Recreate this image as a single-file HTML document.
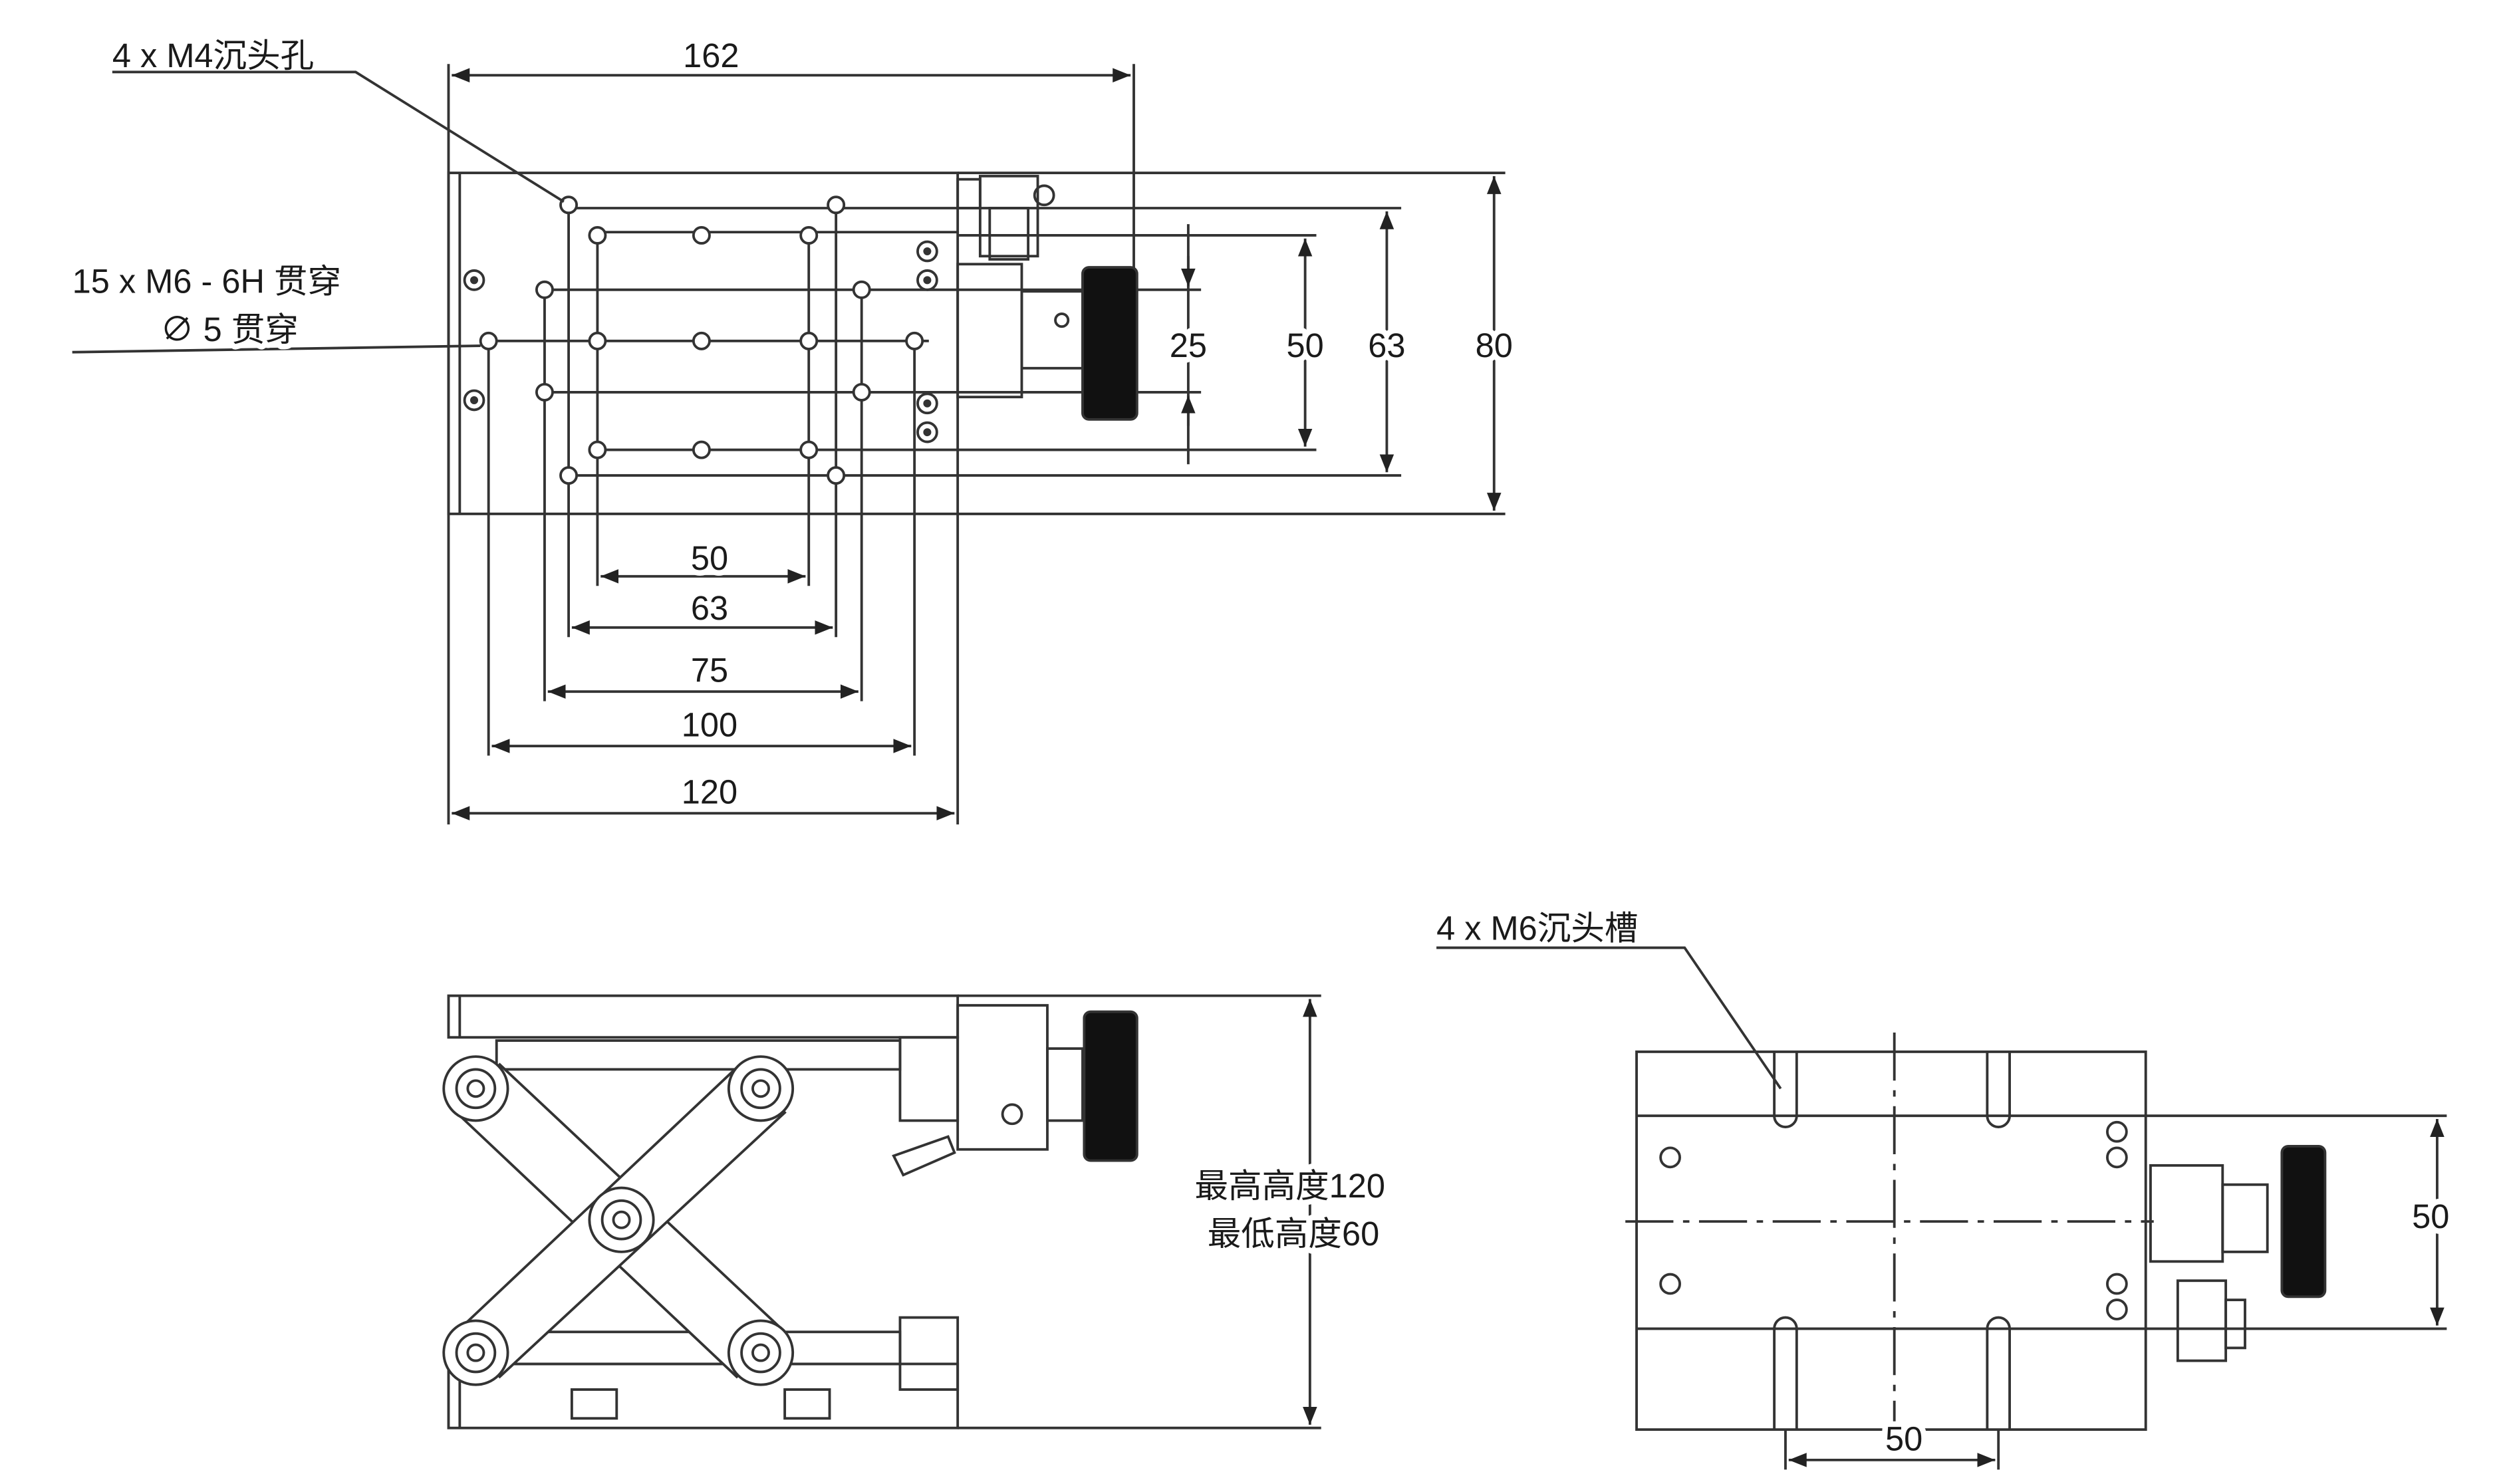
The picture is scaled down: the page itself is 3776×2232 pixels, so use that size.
<!DOCTYPE html>
<html><head><meta charset="utf-8"><style>
html,body{margin:0;padding:0;background:#fff;width:3776px;height:2232px;overflow:hidden}
svg{display:block}
text{font-family:"Liberation Sans","Noto Sans CJK SC",sans-serif;font-size:21px;fill:#1a1a1a;stroke:#fff;stroke-width:7px;paint-order:stroke;stroke-linejoin:round}
text.n{stroke:none}
</style></head><body>
<svg width="3776" height="2232" viewBox="0 0 1568 927" xmlns="http://www.w3.org/2000/svg">
<defs>
<marker id="a" viewBox="0 0 10 10" refX="10" refY="5" markerWidth="7" markerHeight="7" orient="auto-start-reverse"><path d="M0,1 L10,5 L0,9 z" fill="#222"/></marker>
</defs>
<g stroke="#333" stroke-width="1.6" fill="none">
<rect x="280" y="108" width="318" height="213"/>
<line x1="287" y1="108" x2="287" y2="321"/>
<line x1="355" y1="130" x2="875" y2="130"/>
<line x1="370" y1="145" x2="598" y2="145"/>
<line x1="598" y1="147" x2="822" y2="147"/>
<line x1="340" y1="181" x2="598" y2="181"/>
<line x1="598" y1="181" x2="750" y2="181"/>
<line x1="305" y1="213" x2="580" y2="213"/>
<line x1="340" y1="245" x2="598" y2="245"/>
<line x1="598" y1="245" x2="750" y2="245"/>
<line x1="370" y1="281" x2="598" y2="281"/>
<line x1="598" y1="281" x2="822" y2="281"/>
<line x1="355" y1="297" x2="875" y2="297"/>
<line x1="598" y1="108" x2="940" y2="108"/>
<line x1="598" y1="321" x2="940" y2="321"/>
<line x1="355" y1="128" x2="355" y2="398"/>
<line x1="522" y1="128" x2="522" y2="398"/>
<line x1="373" y1="147" x2="373" y2="366"/>
<line x1="505" y1="147" x2="505" y2="366"/>
<line x1="340" y1="181" x2="340" y2="438"/>
<line x1="538" y1="181" x2="538" y2="438"/>
<line x1="305" y1="213" x2="305" y2="472"/>
<line x1="571" y1="213" x2="571" y2="472"/>
<line x1="280" y1="40" x2="280" y2="515"/>
<line x1="598" y1="321" x2="598" y2="515"/>
<line x1="708" y1="40" x2="708" y2="170"/>
<line x1="742" y1="140" x2="742" y2="290"/>
<g fill="#fff">
<circle cx="373" cy="147" r="5"/><circle cx="438" cy="147" r="5"/><circle cx="505" cy="147" r="5"/>
<circle cx="373" cy="213" r="5"/><circle cx="438" cy="213" r="5"/><circle cx="505" cy="213" r="5"/><circle cx="571" cy="213" r="5"/><circle cx="305" cy="213" r="5"/>
<circle cx="373" cy="281" r="5"/><circle cx="438" cy="281" r="5"/><circle cx="505" cy="281" r="5"/>
<circle cx="340" cy="181" r="5"/><circle cx="538" cy="181" r="5"/><circle cx="340" cy="245" r="5"/><circle cx="538" cy="245" r="5"/>
<circle cx="355" cy="128" r="5"/><circle cx="522" cy="128" r="5"/><circle cx="355" cy="297" r="5"/><circle cx="522" cy="297" r="5"/>
<circle cx="296" cy="175" r="6"/><circle cx="296" cy="250" r="6"/>
<circle cx="579" cy="157" r="6"/><circle cx="579" cy="175" r="6"/><circle cx="579" cy="252" r="6"/><circle cx="579" cy="270" r="6"/>
</g>
<g fill="#333" stroke="none">
<circle cx="296" cy="175" r="2.5"/><circle cx="296" cy="250" r="2.5"/><circle cx="579" cy="157" r="2.5"/><circle cx="579" cy="175" r="2.5"/><circle cx="579" cy="252" r="2.5"/><circle cx="579" cy="270" r="2.5"/>
</g>
<rect x="612" y="110" width="36" height="50"/>
<rect x="598" y="112" width="14" height="18"/>
<circle cx="652" cy="122" r="6"/>
<rect x="618" y="130" width="24" height="32"/>
<rect x="598" y="165" width="40" height="83"/>
<rect x="638" y="182" width="38" height="48"/>
<circle cx="663" cy="200" r="4"/>
<rect x="676" y="167" width="34" height="95" rx="4" fill="#111"/>
<line x1="282" y1="47" x2="706" y2="47" marker-start="url(#a)" marker-end="url(#a)"/>
<line x1="375" y1="360" x2="503" y2="360" marker-start="url(#a)" marker-end="url(#a)"/>
<line x1="357" y1="392" x2="520" y2="392" marker-start="url(#a)" marker-end="url(#a)"/>
<line x1="342" y1="432" x2="536" y2="432" marker-start="url(#a)" marker-end="url(#a)"/>
<line x1="307" y1="466" x2="569" y2="466" marker-start="url(#a)" marker-end="url(#a)"/>
<line x1="282" y1="508" x2="596" y2="508" marker-start="url(#a)" marker-end="url(#a)"/>
<line x1="933" y1="110" x2="933" y2="319" marker-start="url(#a)" marker-end="url(#a)"/>
<line x1="866" y1="132" x2="866" y2="295" marker-start="url(#a)" marker-end="url(#a)"/>
<line x1="815" y1="149" x2="815" y2="279" marker-start="url(#a)" marker-end="url(#a)"/>
<line x1="742" y1="160" x2="742" y2="179" marker-end="url(#a)"/>
<line x1="742" y1="266" x2="742" y2="247" marker-end="url(#a)"/>
<polyline points="70,45 222,45 352,126"/>
<line x1="45" y1="220" x2="300" y2="216"/>

<rect x="280" y="622" width="318" height="26"/>
<line x1="287" y1="622" x2="287" y2="648"/>
<rect x="310" y="650" width="252" height="18"/>
<rect x="562" y="648" width="36" height="52"/>
<rect x="598" y="628" width="56" height="90"/>
<rect x="654" y="655" width="22" height="45"/>
<circle cx="632" cy="696" r="6"/>
<path d="M558,722 L592,710 L596,720 L564,734 z"/>
<rect x="677" y="632" width="33" height="93" rx="4" fill="#111"/>
<rect x="310" y="832" width="252" height="20"/>
<rect x="562" y="823" width="36" height="45"/>
<rect x="280" y="852" width="318" height="40"/>
<line x1="287" y1="852" x2="287" y2="892"/>
<rect x="357" y="868" width="28" height="18"/><rect x="490" y="868" width="28" height="18"/>
<path d="M285,695 L460,860 L490,832 L312,665 z" fill="#fff"/>
<path d="M462,665 L285,832 L312,860 L490,695 z" fill="#fff"/>
<g fill="#fff">
<circle cx="297" cy="680" r="20"/><circle cx="475" cy="680" r="20"/><circle cx="388" cy="762" r="20"/><circle cx="297" cy="845" r="20"/><circle cx="475" cy="845" r="20"/>
<circle cx="297" cy="680" r="12"/><circle cx="475" cy="680" r="12"/><circle cx="388" cy="762" r="12"/><circle cx="297" cy="845" r="12"/><circle cx="475" cy="845" r="12"/>
<circle cx="297" cy="680" r="5"/><circle cx="475" cy="680" r="5"/><circle cx="388" cy="762" r="5"/><circle cx="297" cy="845" r="5"/><circle cx="475" cy="845" r="5"/>
</g>
<line x1="598" y1="622" x2="825" y2="622"/>
<line x1="598" y1="892" x2="825" y2="892"/>
<line x1="818" y1="624" x2="818" y2="890" marker-start="url(#a)" marker-end="url(#a)"/>

<rect x="1022" y="657" width="318" height="236"/>
<line x1="1022" y1="697" x2="1340" y2="697"/>
<line x1="1022" y1="830" x2="1340" y2="830"/>
<line x1="1340" y1="697" x2="1528" y2="697"/>
<line x1="1340" y1="830" x2="1528" y2="830"/>
<line x1="1015" y1="763" x2="1345" y2="763" stroke-dasharray="30,6,4,6"/>
<line x1="1183" y1="645" x2="1183" y2="905" stroke-dasharray="30,6,4,6"/>
<path d="M1108,657 L1108,697 A7,7 0 0 0 1122,697 L1122,657"/>
<path d="M1241,657 L1241,697 A7,7 0 0 0 1255,697 L1255,657"/>
<path d="M1108,893 L1108,830 A7,7 0 0 1 1122,830 L1122,893"/>
<path d="M1241,893 L1241,830 A7,7 0 0 1 1255,830 L1255,893"/>
<line x1="1115" y1="893" x2="1115" y2="918"/><line x1="1248" y1="893" x2="1248" y2="918"/>
<line x1="1117" y1="912" x2="1246" y2="912" marker-start="url(#a)" marker-end="url(#a)"/>
<g fill="#fff"><circle cx="1043" cy="723" r="6"/><circle cx="1043" cy="802" r="6"/><circle cx="1322" cy="707" r="6"/><circle cx="1322" cy="723" r="6"/><circle cx="1322" cy="802" r="6"/><circle cx="1322" cy="818" r="6"/></g>
<rect x="1343" y="728" width="45" height="60"/>
<rect x="1388" y="740" width="28" height="42"/>
<rect x="1425" y="716" width="27" height="94" rx="4" fill="#111"/>
<rect x="1360" y="800" width="30" height="50"/>
<rect x="1390" y="812" width="12" height="30"/>
<line x1="1522" y1="699" x2="1522" y2="828" marker-start="url(#a)" marker-end="url(#a)"/>
<polyline points="897,592 1052,592 1112,680"/>
</g>
<text class="n" x="70" y="42">4 x M4沉头孔</text>
<text x="444" y="42" text-anchor="middle">162</text>
<text class="n" x="45" y="183">15 x  M6 - 6H 贯穿</text>
<text x="100" y="213">∅ 5 贯穿</text>
<text x="742" y="223" text-anchor="middle">25</text>
<text x="815" y="223" text-anchor="middle">50</text>
<text x="866" y="223" text-anchor="middle">63</text>
<text x="933" y="223" text-anchor="middle">80</text>
<text x="443" y="356" text-anchor="middle">50</text>
<text x="443" y="387" text-anchor="middle">63</text>
<text x="443" y="426" text-anchor="middle">75</text>
<text x="443" y="460" text-anchor="middle">100</text>
<text x="443" y="502" text-anchor="middle">120</text>
<text x="746" y="748">最高高度120</text>
<text x="754" y="778">最低高度60</text>
<text class="n" x="897" y="587">4 x M6沉头槽</text>
<text x="1518" y="767" text-anchor="middle">50</text>
<text x="1189" y="906" text-anchor="middle">50</text>
</svg>
</body></html>
